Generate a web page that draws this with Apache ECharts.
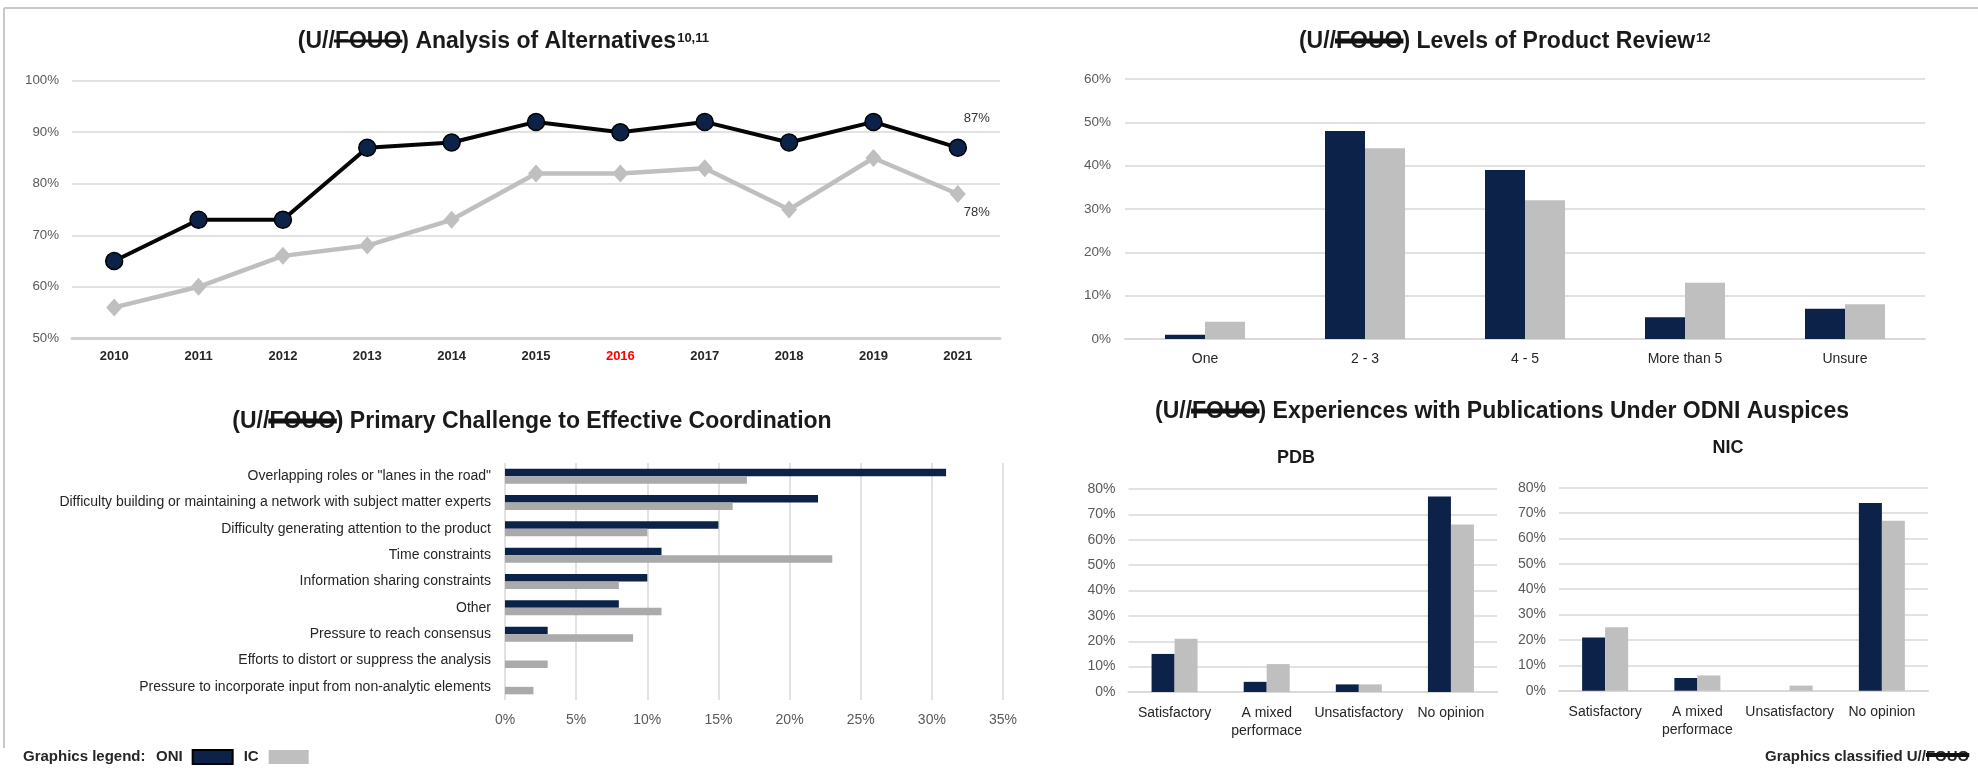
<!DOCTYPE html>
<html>
<head>
<meta charset="utf-8">
<script src="https://cdn.jsdelivr.net/npm/echarts@6/dist/echarts.min.js"></script>
<style>
  html, body { margin: 0; padding: 0; background: #ffffff; }
  #chart { width: 1978px; height: 769px; }
</style>
</head>
<body>
<div id="chart"></div>
<script>
// ---------------- DATA ----------------
const years = ['2010', '2011', '2012', '2013', '2014', '2015', '2016', '2017', '2018', '2019', '2021'];
const aoaONI = [65, 73, 73, 87, 88, 92, 90, 92, 88, 92, 87];
const aoaIC = [56, 60, 66, 68, 73, 82, 82, 83, 75, 85, 78];

const reviewLevels = ['One', '2 - 3', '4 - 5', 'More than 5', 'Unsure'];
const reviewONI = [1, 48, 39, 5, 7];
const reviewIC = [4, 44, 32, 13, 8];

const challenges = [
  'Overlapping roles or "lanes in the road"',
  'Difficulty building or maintaining a network with subject matter experts',
  'Difficulty generating attention to the product',
  'Time constraints',
  'Information sharing constraints',
  'Other',
  'Pressure to reach consensus',
  'Efforts to distort or suppress the analysis',
  'Pressure to incorporate input from non-analytic elements'
];
const challengeONI = [31, 22, 15, 11, 10, 8, 3, 0, 0];
const challengeIC = [17, 16, 10, 23, 8, 11, 9, 3, 2];

const pubCategories = ['Satisfactory', 'A mixed\nperformace', 'Unsatisfactory', 'No opinion'];
const pdbONI = [15, 4, 3, 77];
const pdbIC = [21, 11, 3, 66];
const nicONI = [21, 5, 0, 74];
const nicIC = [25, 6, 2, 67];

const seriesNames = ['ONI', 'IC'];
const highlightYear = '2016';

// ---------------- STYLE ----------------
const FONT = '"Liberation Sans", Arial, sans-serif';
const NAVY = '#0c2249';
const GREY = '#bfbfbf';
const GRID_LINE = '#d9d9d9';
const TICK_COLOR = '#595959';
const DARK = '#262626';

const chart = echarts.init(document.getElementById('chart'), null, { renderer: 'canvas' });

const measureCtx = document.createElement('canvas').getContext('2d');
function textWidth(str, size, weight) {
  measureCtx.font = (weight || 'normal') + ' ' + size + 'px ' + FONT;
  return measureCtx.measureText(str).width;
}

function titleGraphics(prefix, struck, rest, sup, cx, cy, size, strikeWidth) {
  const full = prefix + struck + rest;
  const wFull = textWidth(full, size, 'bold');
  const wPre = textWidth(prefix, size, 'bold');
  const wStr = textWidth(struck, size, 'bold');
  const left = cx - wFull / 2;
  const els = [{
    type: 'text', x: left, y: cy,
    style: { text: full, fontSize: size, fontWeight: 'bold', fontFamily: FONT, fill: '#1a1a1a',
             textAlign: 'left', textVerticalAlign: 'middle' }
  }, {
    type: 'line',
    shape: { x1: left + wPre - 1, y1: cy - 1, x2: left + wPre + wStr + 1, y2: cy - 1 },
    style: { stroke: '#111', lineWidth: strikeWidth }
  }];
  if (sup) {
    els.push({
      type: 'text', x: left + wFull + 1, y: cy - 10,
      style: { text: sup, fontSize: 13, fontWeight: 'bold', fontFamily: FONT, fill: '#1a1a1a',
               textAlign: 'left', textVerticalAlign: 'top' }
    });
  }
  return els;
}

function subTitle(txt, cx, cy) {
  return {
    type: 'text', x: cx, y: cy,
    style: { text: txt, fontSize: 18, fontWeight: 'bold', fontFamily: FONT, fill: '#1a1a1a',
             textAlign: 'center', textVerticalAlign: 'middle' }
  };
}

const graphics = [].concat(
  // frame
  [{ type: 'line', shape: { x1: 4, y1: 8, x2: 1978, y2: 8 }, style: { stroke: '#c8c8c8', lineWidth: 2 } },
   { type: 'line', shape: { x1: 4, y1: 8, x2: 4, y2: 748 }, style: { stroke: '#c8c8c8', lineWidth: 2 } }],
  titleGraphics('(U//', 'FOUO', ') Analysis of Alternatives', '10,11', 487, 42, 23, 3),
  titleGraphics('(U//', 'FOUO', ') Levels of Product Review', '12', 1497, 42, 23, 5),
  titleGraphics('(U//', 'FOUO', ') Primary Challenge to Effective Coordination', '', 532, 422, 23, 5),
  titleGraphics('(U//', 'FOUO', ') Experiences with Publications Under ODNI Auspices', '', 1502, 412, 23, 5),
  [subTitle('PDB', 1296, 458), subTitle('NIC', 1728, 448)],
  [{
    type: 'text', x: 23, y: 757,
    style: { text: 'Graphics legend:', fontSize: 15, fontWeight: 'bold', fontFamily: FONT, fill: DARK,
             textAlign: 'left', textVerticalAlign: 'middle' }
  }]
);
// Graphics classified footer
(function () {
  const pre = 'Graphics classified U//';
  const x0 = 1765;
  const wPre = textWidth(pre, 15, 'bold');
  const wF = textWidth('FOUO', 15, 'bold');
  graphics.push({
    type: 'text', x: x0, y: 757,
    style: { text: pre + 'FOUO', fontSize: 15, fontWeight: 'bold', fontFamily: FONT, fill: DARK,
             textAlign: 'left', textVerticalAlign: 'middle' }
  });
  graphics.push({
    type: 'line', shape: { x1: x0 + wPre, y1: 755, x2: x0 + wPre + wF, y2: 755 },
    style: { stroke: '#111', lineWidth: 4 }
  });
})();

const tickLabel = (size) => ({ color: TICK_COLOR, fontSize: size, fontFamily: FONT });
const catLabel = (size, extra) => Object.assign({ color: DARK, fontSize: size, fontFamily: FONT, interval: 0 }, extra || {});
const splitLine = { show: true, lineStyle: { color: GRID_LINE, width: 1.5 } };

const lastIdx = years.length - 1;
function endLabelData(arr, offset) {
  return arr.map((v, i) => i === lastIdx
    ? { value: v, label: { show: true, position: 'inside', offset: offset, formatter: '{c}%',
                          color: '#333', fontSize: 13, fontFamily: FONT } }
    : v);
}

const option = {
  animation: false,
  backgroundColor: '#ffffff',
  graphic: { elements: graphics },
  legend: {
    left: 156, top: 749, padding: 0,
    data: [{ name: seriesNames[0], itemStyle: { color: NAVY } }, { name: seriesNames[1], itemStyle: { color: GREY } }],
    icon: 'rect', itemWidth: 40, itemHeight: 14, itemGap: 10, align: 'right',
    selectedMode: false,
    textStyle: { fontSize: 15, fontWeight: 'bold', fontFamily: FONT, color: DARK, padding: [0, 5, 0, 0] }
  },
  grid: [
    { left: 72, top: 80.7, width: 928, height: 257.6, containLabel: false, outerBoundsMode: 'none' },
    { left: 1125, top: 79, width: 800, height: 260, containLabel: false, outerBoundsMode: 'none' },
    { left: 505, top: 463, width: 498, height: 237, containLabel: false, outerBoundsMode: 'none' },
    { left: 1128.5, top: 489, width: 368.5, height: 203, containLabel: false, outerBoundsMode: 'none' },
    { left: 1559, top: 487.7, width: 369, height: 203, containLabel: false, outerBoundsMode: 'none' }
  ],
  xAxis: [
    { gridIndex: 0, type: 'category', data: years, boundaryGap: true,
      axisLine: { show: true, lineStyle: { color: '#d0d0d0', width: 3 } }, axisTick: { show: false },
      axisLabel: catLabel(13, { fontWeight: 'bold', margin: 12,
        formatter: (v) => v === highlightYear ? '{red|' + v + '}' : v,
        rich: { red: { color: '#ff0000', fontSize: 13, fontWeight: 'bold', fontFamily: FONT } } }) },
    { gridIndex: 1, type: 'category', data: reviewLevels,
      axisLine: { show: true, lineStyle: { color: GRID_LINE, width: 2 } }, axisTick: { show: false },
      axisLabel: catLabel(14, { margin: 13 }) },
    { gridIndex: 2, type: 'value', min: 0, max: 35, interval: 5,
      axisLine: { show: false }, axisTick: { show: false }, splitLine: splitLine,
      axisLabel: Object.assign(tickLabel(14), { formatter: '{value}%', margin: 13 }) },
    { gridIndex: 3, type: 'category', data: pubCategories,
      axisLine: { show: true, lineStyle: { color: GRID_LINE, width: 2 } }, axisTick: { show: false },
      axisLabel: catLabel(14, { margin: 12, lineHeight: 18 }) },
    { gridIndex: 4, type: 'category', data: pubCategories,
      axisLine: { show: true, lineStyle: { color: GRID_LINE, width: 2 } }, axisTick: { show: false },
      axisLabel: catLabel(14, { margin: 12, lineHeight: 18 }) }
  ],
  yAxis: [
    { gridIndex: 0, type: 'value', min: 50, max: 100, interval: 10,
      axisLine: { show: false }, axisTick: { show: false }, splitLine: splitLine,
      axisLabel: Object.assign(tickLabel(13.3), { formatter: '{value}%', margin: 13 }) },
    { gridIndex: 1, type: 'value', min: 0, max: 60, interval: 10,
      axisLine: { show: false }, axisTick: { show: false }, splitLine: splitLine,
      axisLabel: Object.assign(tickLabel(13.5), { formatter: '{value}%', margin: 14 }) },
    { gridIndex: 2, type: 'category', data: challenges, inverse: true,
      axisLine: { show: false }, axisTick: { show: false },
      axisLabel: catLabel(14, { margin: 14 }) },
    { gridIndex: 3, type: 'value', min: 0, max: 80, interval: 10,
      axisLine: { show: false }, axisTick: { show: false }, splitLine: splitLine,
      axisLabel: Object.assign(tickLabel(14), { formatter: '{value}%', margin: 13 }) },
    { gridIndex: 4, type: 'value', min: 0, max: 80, interval: 10,
      axisLine: { show: false }, axisTick: { show: false }, splitLine: splitLine,
      axisLabel: Object.assign(tickLabel(14), { formatter: '{value}%', margin: 13 }) }
  ],
  series: [
    // Analysis of Alternatives
    { name: seriesNames[1], type: 'line', xAxisIndex: 0, yAxisIndex: 0,
      data: endLabelData(aoaIC, [19, 18]),
      symbol: 'diamond', symbolSize: [16, 18],
      lineStyle: { color: GREY, width: 4.5 }, itemStyle: { color: GREY }, z: 2 },
    { name: seriesNames[0], type: 'line', xAxisIndex: 0, yAxisIndex: 0,
      data: endLabelData(aoaONI, [19, -29]),
      symbol: 'circle', symbolSize: 17,
      lineStyle: { color: '#050505', width: 4 },
      itemStyle: { color: NAVY, borderColor: '#000000', borderWidth: 1.5 }, z: 3 },
    // Levels of Product Review
    { name: seriesNames[0], type: 'bar', xAxisIndex: 1, yAxisIndex: 1, data: reviewONI,
      barWidth: 40, barGap: '0%', itemStyle: { color: NAVY } },
    { name: seriesNames[1], type: 'bar', xAxisIndex: 1, yAxisIndex: 1, data: reviewIC,
      barWidth: 40, barGap: '0%', itemStyle: { color: GREY } },
    // Primary Challenge
    { name: seriesNames[0], type: 'bar', xAxisIndex: 2, yAxisIndex: 2, data: challengeONI,
      barWidth: 7.5, barGap: '0%', itemStyle: { color: NAVY } },
    { name: seriesNames[1], type: 'bar', xAxisIndex: 2, yAxisIndex: 2, data: challengeIC,
      barWidth: 7.5, barGap: '0%', itemStyle: { color: '#aaaaaa' } },
    // PDB
    { name: seriesNames[0], type: 'bar', xAxisIndex: 3, yAxisIndex: 3, data: pdbONI,
      barWidth: 23, barGap: '0%', itemStyle: { color: NAVY } },
    { name: seriesNames[1], type: 'bar', xAxisIndex: 3, yAxisIndex: 3, data: pdbIC,
      barWidth: 23, barGap: '0%', itemStyle: { color: GREY } },
    // NIC
    { name: seriesNames[0], type: 'bar', xAxisIndex: 4, yAxisIndex: 4, data: nicONI,
      barWidth: 23, barGap: '0%', itemStyle: { color: NAVY } },
    { name: seriesNames[1], type: 'bar', xAxisIndex: 4, yAxisIndex: 4, data: nicIC,
      barWidth: 23, barGap: '0%', itemStyle: { color: GREY } }
  ]
};

chart.setOption(option);
</script>
</body>
</html>
